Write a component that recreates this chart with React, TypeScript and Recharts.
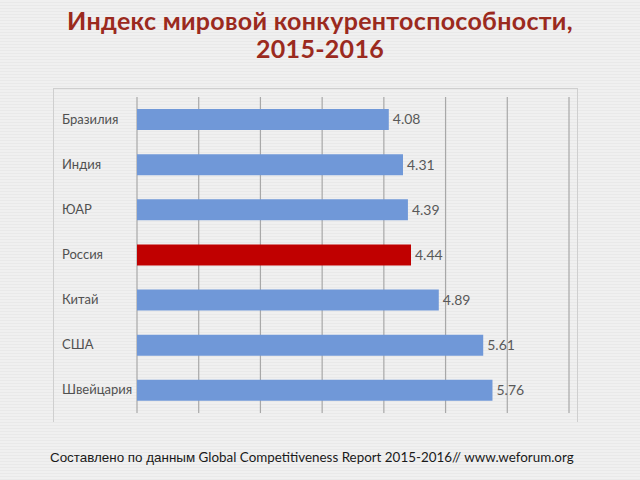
import React from "react";
import { BarChart, Bar, XAxis, YAxis, CartesianGrid, Cell, LabelList } from "recharts";

const countries = ["Бразилия", "Индия", "ЮАР", "Россия", "Китай", "США", "Швейцария"];
const scores = [4.08, 4.31, 4.39, 4.44, 4.89, 5.61, 5.76];
const highlight = "Россия";
const xTicks = [0, 1, 2, 3, 4, 5, 6, 7];

const data = countries.map((name, i) => ({ name, value: scores[i] }));

const CountryTick = (props: any) => {
  const { x, y, payload } = props;
  return (
    <text x={x - 67} y={y} dy={4} textAnchor="start" fontSize={13} fill="#505050" fontFamily="Lato, 'Open Sans', sans-serif">
      {payload.value}
    </text>
  );
};

export default function App() {
  return (
    <div
      style={{
        position: "absolute",
        left: 0,
        top: 0,
        width: 640,
        height: 480,
        background: "repeating-linear-gradient(180deg, #f0f0f0 0px, #f0f0f0 2px, #e9e9e9 2px, #e9e9e9 3px)",
        overflow: "hidden",
        fontFamily: "Lato, 'Open Sans', sans-serif",
      }}
    >
      <div
        style={{
          position: "absolute",
          left: 0,
          top: 6,
          width: 640,
          textAlign: "center",
          color: "#9b2a1e",
          fontWeight: 700,
          fontSize: 25,
          letterSpacing: 0.3,
          lineHeight: "28px",
        }}
      >
        Индекс мировой конкурентоспособности,
        <br />
        2015-2016
      </div>
      <div
        style={{
          position: "absolute",
          left: 53,
          top: 88,
          width: 523,
          height: 333,
          borderTop: "1px solid #cfcfcf",
          borderLeft: "1px solid #cfcfcf",
          borderRight: "1px solid #cfcfcf",
        }}
      />
      <div style={{ position: "absolute", left: 0, top: 0 }}>
        <BarChart
          width={640}
          height={480}
          data={data}
          layout="vertical"
          margin={{ top: 97, right: 71, bottom: 67, left: 57 }}
        >
          <CartesianGrid horizontal={false} stroke="#a8a8a8" strokeWidth={1.2} />
          <XAxis type="number" domain={[0, 7]} ticks={xTicks} hide />
          <YAxis
            type="category"
            dataKey="name"
            width={80}
            axisLine={false}
            tickLine={false}
            tick={<CountryTick />}
          />
          <Bar dataKey="value" barSize={21} isAnimationActive={false}>
            {data.map((d) => (
              <Cell key={d.name} fill={d.name === highlight ? "#c00000" : "#7098d8"} />
            ))}
            <LabelList
              dataKey="value"
              position="right"
              offset={4}
              fontSize={14}
              fill="#595959"
              fontFamily="Lato, 'Open Sans', sans-serif"
              formatter={(v: any) => Number(v).toFixed(2)}
            />
          </Bar>
        </BarChart>
      </div>
      <div
        style={{
          position: "absolute",
          left: 50,
          top: 449,
          fontSize: 13.4,
          color: "#1a1a1a",
          whiteSpace: "nowrap",
        }}
      >
        <span style={{ fontFamily: "'Liberation Sans', Arial, sans-serif" }}>Составлено по данным</span>{" "}
        <span>Global Competitiveness Report 2015-2016// www.weforum.org</span>
      </div>
    </div>
  );
}
